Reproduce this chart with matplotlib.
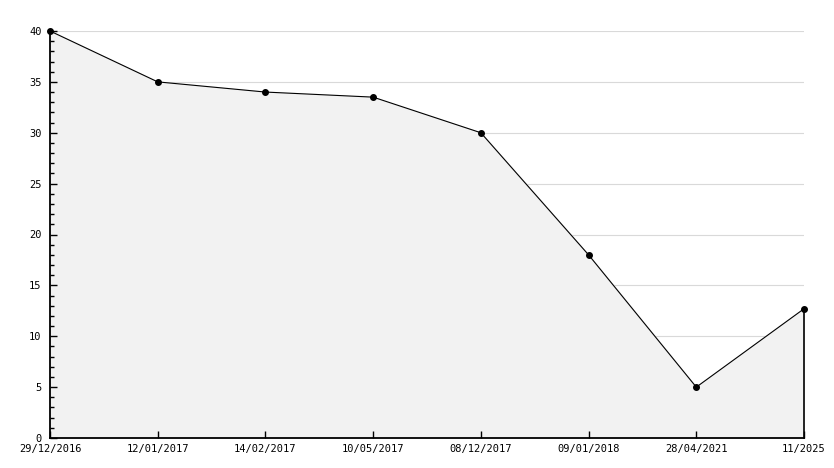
import matplotlib
matplotlib.use("Agg")
import matplotlib.pyplot as plt
from matplotlib.ticker import MultipleLocator

dates = ["29/12/2016", "12/01/2017", "14/02/2017", "10/05/2017",
         "08/12/2017", "09/01/2018", "28/04/2021", "11/2025"]
values = [40, 35, 34, 33.5, 30, 18, 5, 12.7]

W, H = 834, 468
fig = plt.figure(figsize=(W/100, H/100), dpi=100)
ax = fig.add_axes([50/W, 1-438/H, (804-50)/W, (438-31)/H])

x = list(range(len(dates)))
ax.fill_between(x, values, 0, color="#f2f2f2", zorder=1)
ax.plot(x, values, color="black", lw=0.8, marker="o", ms=4, zorder=4, clip_on=False)
ax.plot([x[-1], x[-1]], [0, values[-1]], color="black", lw=1.2, zorder=3, clip_on=False)

ax.set_xlim(0, len(dates)-1)
ax.set_ylim(0, 40)
ax.yaxis.set_major_locator(MultipleLocator(5))
ax.yaxis.set_minor_locator(MultipleLocator(1))
ax.set_xticks(x)
ax.set_xticklabels(dates)
for v in ax.get_yticks():
    if 0 < v <= 40:
        ax.axhline(v, color="#d9d9d9", lw=0.8, zorder=0)
ax.set_axisbelow(False)

for s in ["top", "right"]:
    ax.spines[s].set_visible(False)
for s in ["left", "bottom"]:
    ax.spines[s].set_linewidth(1.3)

ax.tick_params(axis="y", which="major", direction="in", length=5, width=1, pad=6,
               labelsize=7.5)
ax.tick_params(axis="y", which="minor", direction="in", length=3, width=1)
ax.tick_params(axis="x", which="major", direction="in", length=5, width=1, pad=4,
               labelsize=7.5)
for lab in ax.get_xticklabels() + ax.get_yticklabels():
    lab.set_fontfamily("DejaVu Sans Mono")

fig.savefig("out.png", dpi=100)
